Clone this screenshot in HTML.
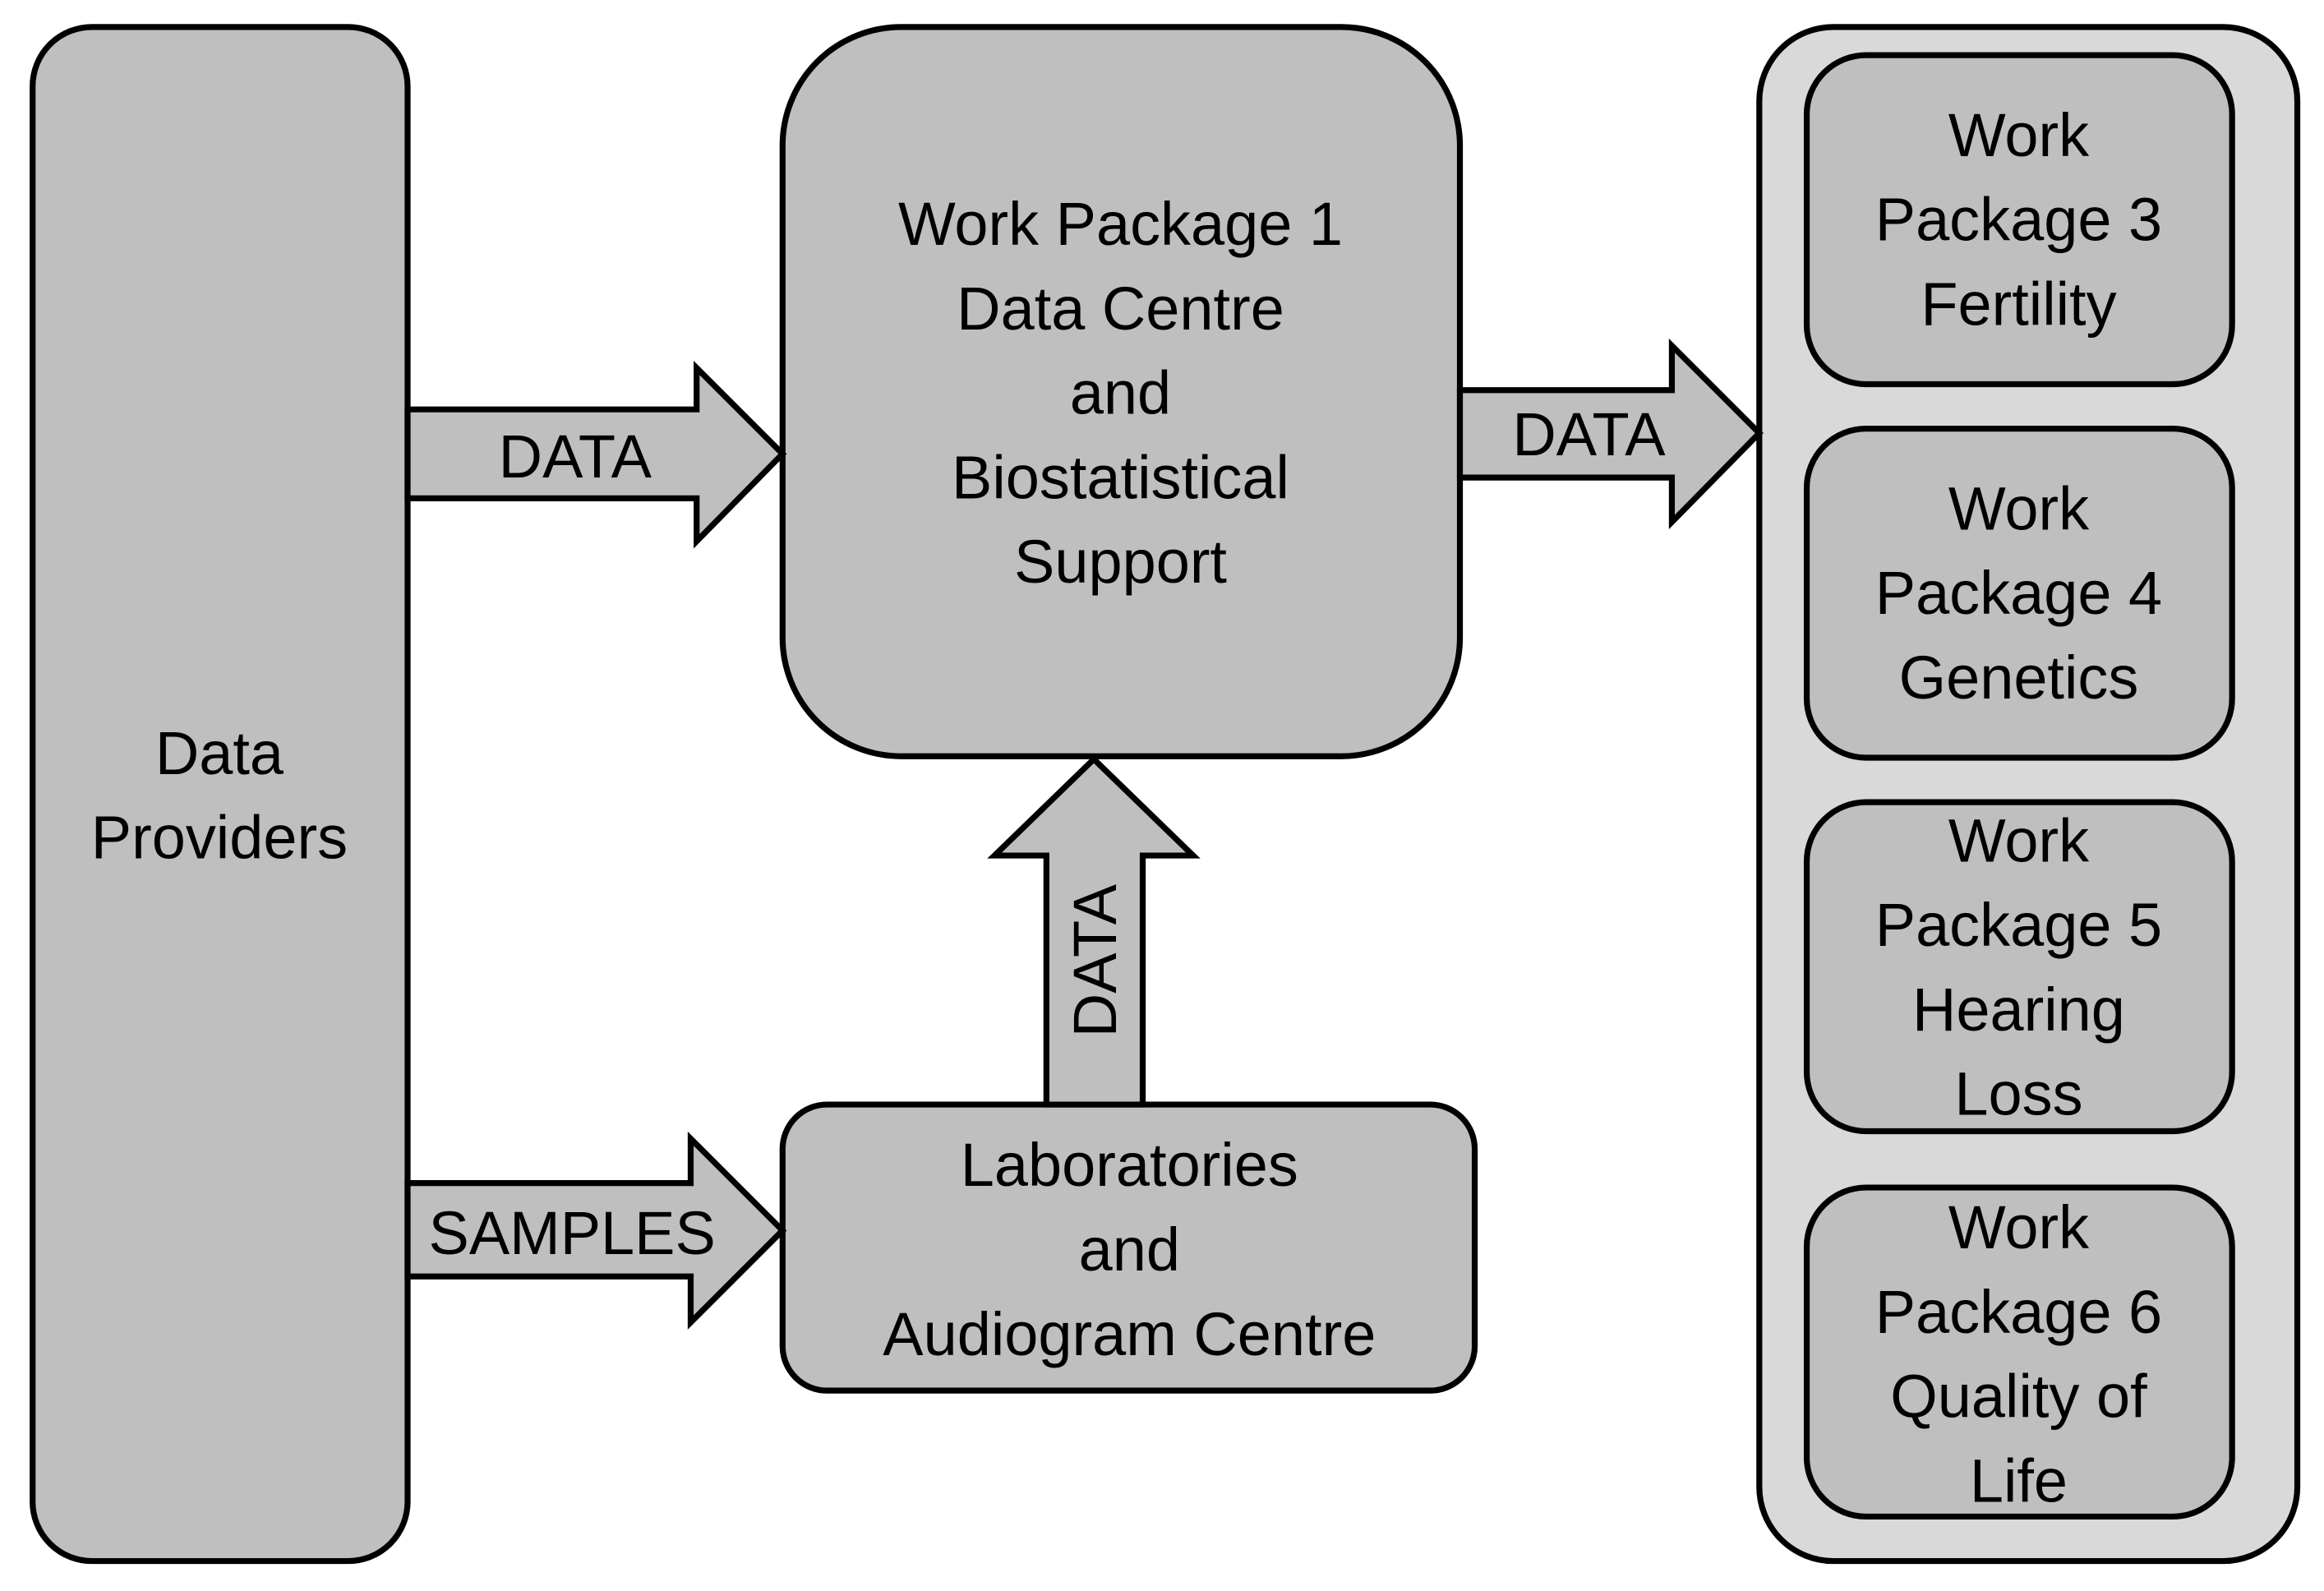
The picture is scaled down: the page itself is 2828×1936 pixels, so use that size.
<!DOCTYPE html>
<html><head><style>
html,body{margin:0;padding:0;background:#fff;}
svg{display:block;}
text{font-family:"Liberation Sans",sans-serif;font-size:41px;fill:#000;text-anchor:middle;}
</style></head><body>
<svg width="2828" height="1936" viewBox="0 0 1568 1073" xmlns="http://www.w3.org/2000/svg">
<g stroke="#000" stroke-width="4" stroke-linejoin="miter">
<rect x="22" y="18" width="253" height="1035" rx="40" fill="#bfbfbf"/>
<rect x="528" y="18" width="457" height="492" rx="80" fill="#bfbfbf"/>
<rect x="528" y="745" width="467" height="193" rx="30" fill="#bfbfbf"/>
<rect x="1187" y="18" width="363" height="1035" rx="50" fill="#d9d9d9"/>
<rect x="1219" y="37" width="287" height="222" rx="40" fill="#bfbfbf"/>
<rect x="1219" y="289" width="287" height="222" rx="40" fill="#bfbfbf"/>
<rect x="1219" y="541" width="287" height="222" rx="40" fill="#bfbfbf"/>
<rect x="1219" y="801" width="287" height="222" rx="40" fill="#bfbfbf"/>
<polygon points="275,276 470,276 470,248 528,306 470,365 470,336 275,336" fill="#bfbfbf"/>
<polygon points="985,263 1128,263 1128,233 1187,292 1128,352 1128,322 985,322" fill="#bfbfbf"/>
<polygon points="275,798 466,798 466,768 528,830 466,892 466,861 275,861" fill="#bfbfbf"/>
<polygon points="706,745 706,577 671,577 738,512 805,577 771,577 771,745" fill="#bfbfbf"/>
</g>
<text x="756" y="165">Work Package 1</text>
<text x="756" y="222">Data Centre</text>
<text x="756" y="279">and</text>
<text x="756" y="336">Biostatistical</text>
<text x="756" y="393">Support</text>
<text x="148" y="522">Data</text>
<text x="148" y="579">Providers</text>
<text x="762" y="800">Laboratories</text>
<text x="762" y="857">and</text>
<text x="762" y="914">Audiogram Centre</text>
<text x="1362" y="105">Work</text>
<text x="1362" y="162">Package 3</text>
<text x="1362" y="219">Fertility</text>
<text x="1362" y="357">Work</text>
<text x="1362" y="414">Package 4</text>
<text x="1362" y="471">Genetics</text>
<text x="1362" y="581">Work</text>
<text x="1362" y="638">Package 5</text>
<text x="1362" y="695">Hearing</text>
<text x="1362" y="752">Loss</text>
<text x="1362" y="842">Work</text>
<text x="1362" y="899">Package 6</text>
<text x="1362" y="956">Quality of</text>
<text x="1362" y="1013">Life</text>
<text x="388" y="322">DATA</text>
<text x="1072" y="307">DATA</text>
<text x="386" y="846">SAMPLES</text>
<text x="0" y="0" transform="translate(753,648) rotate(-90)">DATA</text>
</svg>
</body></html>
